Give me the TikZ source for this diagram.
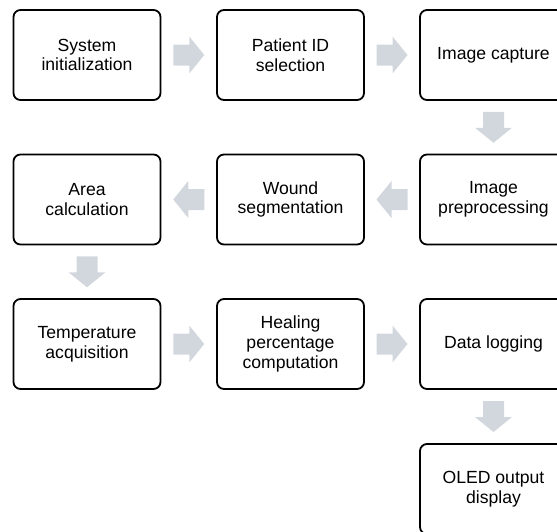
\documentclass[tikz,border=0pt]{standalone}
\usepackage{fontspec}
\setmainfont{Liberation Sans}
\tikzset{
  stepbox/.style={draw=black, line width=1.8pt, rounded corners=7pt, fill=white,
    minimum width=147pt, minimum height=90pt, align=center, inner sep=1pt,
    font=\fontsize{17.6}{19.8}\selectfont},
  barrow/.pic={\fill[arrowfill] (-15.5,-10.5) -- (0.5,-10.5) -- (0.5,-18.5) -- (15.5,0) -- (0.5,18.5) -- (0.5,10.5) -- (-15.5,10.5) -- cycle;}
}
\definecolor{arrowfill}{RGB}{210,215,222}
\begin{document}
\begin{tikzpicture}[x=1pt,y=-1pt]
\useasboundingbox (0,0) rectangle (557,531);
\clip (0,0) rectangle (557,531);
\node[stepbox] (n1) at (87,55) {System\\initialization};
\node[stepbox] (n2) at (290.5,55) {Patient ID\\selection};
\node[stepbox] (n3) at (493.5,55) {Image capture};
\node[stepbox] (n4) at (493.5,199.5) {Image\\preprocessing};
\node[stepbox] (n5) at (290.5,199.5) {Wound\\segmentation};
\node[stepbox] (n6) at (87,199.5) {Area\\calculation};
\node[stepbox] (n7) at (87,344) {Temperature\\acquisition};
\node[stepbox] (n8) at (290.5,344) {Healing\\percentage\\computation};
\node[stepbox] (n9) at (493.5,344) {Data logging};
\node[stepbox] (n10) at (493.5,489) {OLED output\\display};
\path (n1.east) -- (n2.west) coordinate[midway] (a1);
\path (n2.east) -- (n3.west) coordinate[midway] (a2);
\path (n3.south) -- (n4.north) coordinate[midway] (a3);
\path (n4.west) -- (n5.east) coordinate[midway] (a4);
\path (n5.west) -- (n6.east) coordinate[midway] (a5);
\path (n6.south) -- (n7.north) coordinate[midway] (a6);
\path (n7.east) -- (n8.west) coordinate[midway] (a7);
\path (n8.east) -- (n9.west) coordinate[midway] (a8);
\path (n9.south) -- (n10.north) coordinate[midway] (a9);
\pic at (a1) {barrow};
\pic at (a2) {barrow};
\pic[rotate=-90] at (a3) {barrow};
\pic[rotate=180] at (a4) {barrow};
\pic[rotate=180] at (a5) {barrow};
\pic[rotate=-90] at (a6) {barrow};
\pic at (a7) {barrow};
\pic at (a8) {barrow};
\pic[rotate=-90] at (a9) {barrow};
\end{tikzpicture}
\end{document}
